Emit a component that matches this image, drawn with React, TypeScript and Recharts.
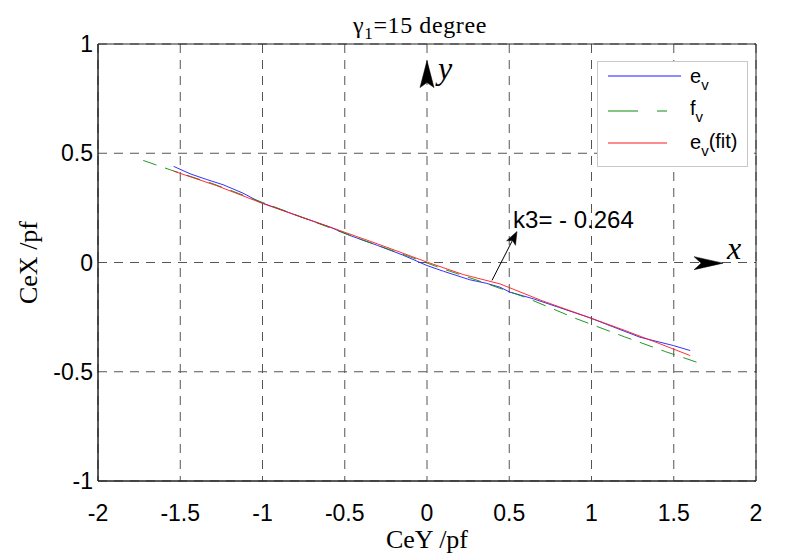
import React from 'react';
import {
  LineChart,
  Line,
  XAxis,
  YAxis,
  CartesianGrid,
  ReferenceArea,
  ReferenceLine,
  ReferenceDot,
  Legend,
  Label,
} from 'recharts';

// ---------- data ----------
const xTicks = [-2, -1.5, -1, -0.5, 0, 0.5, 1, 1.5, 2];
const yTicks = [-1, -0.5, 0, 0.5, 1];

const evX = [-1.54, -1.44, -1.34, -1.24, -1.12, -1.015, -0.9, -0.78, -0.59, -0.47, -0.3, -0.15, 0, 0.1, 0.26, 0.36, 0.444, 0.505, 0.646, 0.8, 0.99, 1.15, 1.295, 1.497, 1.6];
const evY = [0.44, 0.406, 0.38, 0.356, 0.318, 0.276, 0.245, 0.212, 0.162, 0.124, 0.078, 0.035, -0.014, -0.04, -0.079, -0.095, -0.113, -0.136, -0.166, -0.205, -0.253, -0.3, -0.342, -0.38, -0.403];

const fvX = [-1.725, -1.56, -1.3, -1.0, -0.7, -0.4, -0.1, 0.1, 0.3, 0.6, 0.9, 1.2, 1.45, 1.67];
const fvY = [0.467, 0.424, 0.36, 0.275, 0.19, 0.105, 0.025, -0.03, -0.08, -0.16, -0.255, -0.34, -0.408, -0.464];

const fitX = [-1.54, -1.28, -0.995, -0.6, -0.3, 0, 0.22, 0.444, 0.7, 0.99, 1.2, 1.416, 1.6];
const fitY = [0.418, 0.352, 0.269, 0.165, 0.085, 0.002, -0.055, -0.098, -0.175, -0.253, -0.31, -0.372, -0.426];

const seriesNames = ['e_v', 'f_v', 'e_v(fit)'];
const titleText = { sym: 'γ', sub: '1', rest: '=15 degree' };
const xTitle = 'CeY /pf';
const yTitle = 'CeX /pf';
const k3Text = 'k3= - 0.264';

// annotation anchors (data coordinates)
const k3ArrowFrom = { x: 0.395, y: -0.082 };
const k3ArrowTo = { x: 0.547, y: 0.142 };
const k3TextAt = { x: 0.523, y: 0.16 };
const yArrowFrom = { x: 0, y: 0.80 };
const yArrowTo = { x: 0, y: 0.924 };
const yLabelAt = { x: 0.067, y: 0.842 };
const xArrowFrom = { x: 1.623, y: -0.003 };
const xArrowTo = { x: 1.8, y: -0.003 };
const xLabelAt = { x: 1.824, y: 0.014 };

const toPts = (xs: number[], ys: number[]) => xs.map((x, i) => ({ x, y: ys[i] }));
const evData = toPts(evX, evY);
const fvData = toPts(fvX, fvY);
const fitData = toPts(fitX, fitY);

// ---------- styles ----------
const SANS = '"Liberation Sans", Arial, Helvetica, sans-serif';
const SERIF = '"Liberation Serif", "Times New Roman", Times, serif';
const BLUE = '#1a1aff';
const GREEN = '#0a8a0a';
const RED = '#ff1a1a';

const XTick = (props: any) => {
  const { x, y, payload } = props;
  return (
    <text x={x} y={y + 32} textAnchor="middle" fontFamily={SANS} fontSize={23} fill="#000">
      {String(payload.value)}
    </text>
  );
};

const YTick = (props: any) => {
  const { x, y, payload } = props;
  return (
    <text x={x + 3} y={y + 8} textAnchor="end" fontFamily={SANS} fontSize={23} fill="#000">
      {String(payload.value)}
    </text>
  );
};

const XTitle = (props: any) => {
  const vb = props.viewBox || {};
  const cx = vb.x + vb.width / 2;
  return (
    <text x={cx} y={vb.y + 67} textAnchor="middle" fontFamily={SERIF} fontSize={26} fill="#000">
      {xTitle}
    </text>
  );
};

const YTitle = (props: any) => {
  const vb = props.viewBox || {};
  const cy = vb.y + vb.height / 2;
  const x = 37;
  return (
    <text x={x} y={cy} textAnchor="middle" fontFamily={SERIF} fontSize={26} fill="#000" transform={`rotate(-90, ${x}, ${cy})`}>
      {yTitle}
    </text>
  );
};

const makeArrow = (len: number, halfW: number, notch: number, shaft: boolean) => (p: any) => {
  const { x1, y1, x2, y2 } = p;
  const dx = x2 - x1;
  const dy = y2 - y1;
  const L = Math.hypot(dx, dy) || 1;
  const ux = dx / L;
  const uy = dy / L;
  const nx = -uy;
  const ny = ux;
  const bx = x2 - ux * len;
  const by = y2 - uy * len;
  const mx = x2 - ux * (len - notch);
  const my = y2 - uy * (len - notch);
  const pts = [
    [x2, y2],
    [bx + nx * halfW, by + ny * halfW],
    [mx, my],
    [bx - nx * halfW, by - ny * halfW],
  ]
    .map((q) => q.join(','))
    .join(' ');
  return (
    <g>
      {shaft && <line x1={x1} y1={y1} x2={mx} y2={my} stroke="#000" strokeWidth={1} />}
      <polygon points={pts} fill="#000" stroke="#000" strokeWidth={0.5} />
    </g>
  );
};

const K3ArrowShape = makeArrow(13, 5, 3, true);
const BigArrowY = makeArrow(27, 7, 5, false);
const BigArrowX = makeArrow(29, 6.5, 7, false);

const textShape = (content: string, size: number, family: string, italic: boolean) => (p: any) => (
  <text
    x={p.cx}
    y={p.cy}
    fontFamily={family}
    fontSize={size}
    fontStyle={italic ? 'italic' : 'normal'}
    fill="#000"
  >
    {content}
  </text>
);

const SubLabel = ({ x, y, base, sub, tail }: { x: number; y: number; base: string; sub: string; tail?: string }) => (
  <text x={x} y={y} fontFamily={SANS} fontSize={20} fill="#000">
    {base}
    <tspan fontSize={15} dy={7}>{sub}</tspan>
    {tail ? <tspan dy={-8}>{tail}</tspan> : null}
  </text>
);

const LegendBox = () => {
  const parts = seriesNames.map((n) => {
    const m = n.match(/^(\w)_(\w)(.*)$/);
    return m ? { base: m[1], sub: m[2], tail: m[3] } : { base: n, sub: '', tail: '' };
  });
  return (
    <svg width={152} height={107} style={{ display: 'block' }}>
      <rect x={0.5} y={0.5} width={150} height={105} fill="#fff" stroke="#c8c8c8" strokeWidth={1} />
      <line x1={11} y1={15} x2={84} y2={15} stroke={BLUE} strokeWidth={1} />
      <SubLabel x={93} y={22} base={parts[0].base} sub={parts[0].sub} tail={parts[0].tail} />
      <line x1={11} y1={50} x2={70} y2={50} stroke={GREEN} strokeWidth={1} strokeDasharray="30 19" />
      <SubLabel x={93} y={54} base={parts[1].base} sub={parts[1].sub} tail={parts[1].tail} />
      <line x1={11} y1={82} x2={70} y2={82} stroke={RED} strokeWidth={1} />
      <SubLabel x={93} y={88} base={parts[2].base} sub={parts[2].sub} tail={parts[2].tail} />
    </svg>
  );
};

export default function App() {
  return (
    <div style={{ position: 'absolute', left: 0, top: 0, width: 790, height: 560, background: '#fff' }}>
      <LineChart width={790} height={560} margin={{ top: 44, right: 34, bottom: 39, left: 38 }}>
        <CartesianGrid stroke="#555" strokeDasharray="9 7" strokeWidth={1} />
        <XAxis
          type="number"
          dataKey="x"
          domain={[-2, 2]}
          ticks={xTicks}
          interval={0}
          allowDataOverflow
          tickLine={false}
          axisLine={{ stroke: '#222' }}
          tick={XTick}
          height={40}
        >
          <Label content={XTitle} />
        </XAxis>
        <YAxis
          type="number"
          dataKey="y"
          domain={[-1, 1]}
          ticks={yTicks}
          interval={0}
          allowDataOverflow
          tickLine={false}
          axisLine={{ stroke: '#222' }}
          tick={YTick}
          width={60}
        >
          <Label content={YTitle} />
        </YAxis>
        <ReferenceArea x1={-2} x2={2} y1={-1} y2={1} fill="none" stroke="#222" strokeWidth={1} ifOverflow="visible" />
        <Line data={evData} dataKey="y" name={seriesNames[0]} stroke={BLUE} strokeWidth={0.9} dot={false} isAnimationActive={false} />
        <Line data={fvData} dataKey="y" name={seriesNames[1]} stroke={GREEN} strokeWidth={0.9} strokeDasharray="14 9" dot={false} isAnimationActive={false} />
        <Line data={fitData} dataKey="y" name={seriesNames[2]} stroke={RED} strokeWidth={0.9} dot={false} isAnimationActive={false} />
        <ReferenceLine segment={[k3ArrowFrom, k3ArrowTo]} shape={K3ArrowShape} ifOverflow="visible" />
        <ReferenceLine segment={[yArrowFrom, yArrowTo]} shape={BigArrowY} ifOverflow="visible" />
        <ReferenceLine segment={[xArrowFrom, xArrowTo]} shape={BigArrowX} ifOverflow="visible" />
        <ReferenceDot x={k3TextAt.x} y={k3TextAt.y} r={0} shape={textShape(k3Text, 24, SANS, false)} ifOverflow="visible" />
        <ReferenceDot x={yLabelAt.x} y={yLabelAt.y} r={0} shape={textShape('y', 32, SERIF, true)} ifOverflow="visible" />
        <ReferenceDot x={xLabelAt.x} y={xLabelAt.y} r={0} shape={textShape('x', 32, SERIF, true)} ifOverflow="visible" />
        <Legend
          layout="vertical"
          align="center"
          verticalAlign="middle"
          content={LegendBox}
          wrapperStyle={{ position: 'absolute', left: 597, top: 61, width: 152, height: 107, margin: 0 }}
        />
        <text x={420} y={33} textAnchor="middle" fontFamily={SERIF} fontSize={24} letterSpacing={0.6} fill="#000">
          {titleText.sym}
          <tspan fontSize={17} dy={6}>{titleText.sub}</tspan>
          <tspan dy={-6}>{titleText.rest}</tspan>
        </text>
      </LineChart>
    </div>
  );
}
